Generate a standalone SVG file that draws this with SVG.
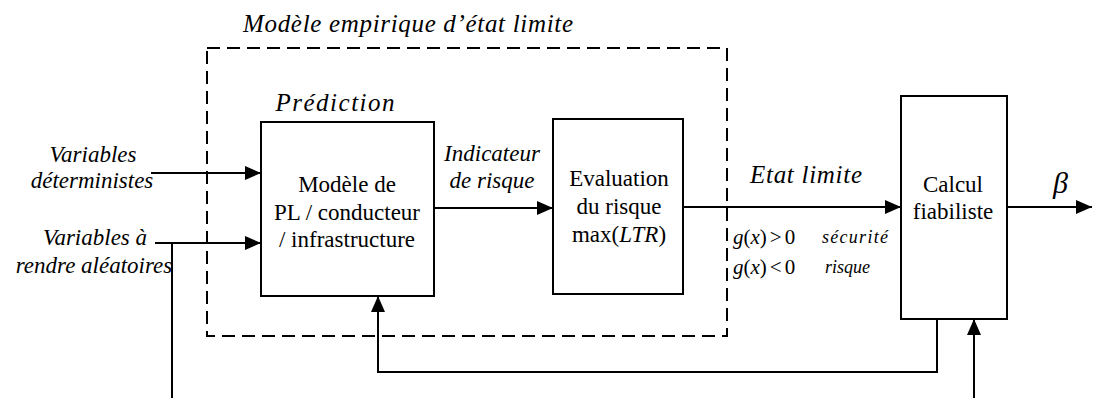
<svg xmlns="http://www.w3.org/2000/svg" width="1093" height="398" viewBox="0 0 1093 398" font-family="Liberation Serif, Tinos, Times New Roman, Times, Noto Serif, DejaVu Serif, FreeSerif, serif">
<style>
.box{fill:#fff;stroke:#000;stroke-width:2}
.ln{fill:none;stroke:#000;stroke-width:2}
.r{font-size:23px;text-anchor:middle}
.i{font-style:italic}
</style>
<defs>
<marker id="ah" markerUnits="userSpaceOnUse" markerWidth="16" markerHeight="14" viewBox="0 0 16 14" refX="16" refY="7" orient="auto">
<path d="M0,0 L16,7 L0,14 Z" fill="#000"/>
</marker>
</defs>
<rect id="frame" x="207" y="48" width="520" height="288" fill="none" stroke="#000" stroke-width="2" stroke-dasharray="13 7"/>
<text class="i" x="408" y="32" font-size="25" text-anchor="middle" textLength="330">Modèle empirique d’état limite</text>
<text class="i" x="335" y="111" font-size="25" text-anchor="middle" textLength="119">Prédiction</text>
<g id="connectors">
<path class="ln" d="M151,173 H261" marker-end="url(#ah)"/>
<path class="ln" d="M155,243 H261" marker-end="url(#ah)"/>
<path class="ln" d="M172,243 V398"/>
<path class="ln" d="M434,208 H553" marker-end="url(#ah)"/>
<path class="ln" d="M683,207 H901" marker-end="url(#ah)"/>
<path class="ln" d="M1007,207 H1092" marker-end="url(#ah)"/>
<path class="ln" d="M937,319 V372 H378 V296" marker-end="url(#ah)"/>
<path class="ln" d="M974,398 V319" marker-end="url(#ah)"/>
</g>
<g id="model">
<rect class="box" x="261" y="122" width="173" height="174"/>
<text class="r" x="347" y="192">Modèle de</text>
<text class="r" x="347" y="220">PL / conducteur</text>
<text class="r" x="347" y="247">/ infrastructure</text>
</g>
<g id="evaluation">
<rect class="box" x="553" y="119" width="130" height="175"/>
<text class="r" x="619" y="186">Evaluation</text>
<text class="r" x="619" y="214">du risque</text>
<text class="r" x="619" y="242">max(<tspan font-style="italic">LTR</tspan>)</text>
</g>
<g id="calcul">
<rect class="box" x="901" y="96" width="106" height="223"/>
<text class="r" x="953" y="192">Calcul</text>
<text class="r" x="953" y="219">fiabiliste</text>
</g>
<g id="labels">
<text class="i r" x="93" y="162">Variables</text>
<text class="i r" x="92" y="188">déterministes</text>
<text class="i r" x="95" y="245">Variables à</text>
<text class="i r" x="94" y="273">rendre aléatoires</text>
<text class="i r" x="492" y="161">Indicateur</text>
<text class="i r" x="492" y="188">de risque</text>
<text class="i" x="806" y="183" font-size="25" text-anchor="middle" textLength="112">Etat limite</text>
<text class="i" x="1053" y="193" font-size="30">β</text>
<text x="733" y="244" font-size="21"><tspan font-style="italic">g</tspan>(<tspan font-style="italic">x</tspan>)<tspan dx="3">&gt;</tspan><tspan dx="3">0</tspan></text>
<text x="733" y="274" font-size="21"><tspan font-style="italic">g</tspan>(<tspan font-style="italic">x</tspan>)<tspan dx="3">&lt;</tspan><tspan dx="3">0</tspan></text>
<text class="i" x="822" y="243" font-size="18" textLength="66">sécurité</text>
<text class="i" x="825" y="273" font-size="18">risque</text>
</g>
</svg>
